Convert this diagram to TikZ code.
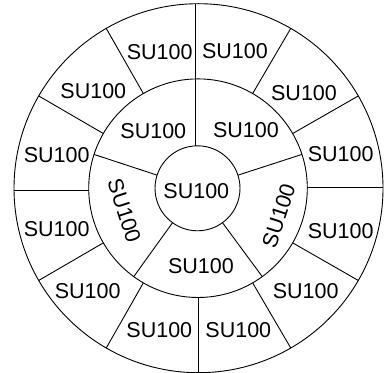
\documentclass[tikz,border=0pt]{standalone}
\usepackage{fontspec}
\setmainfont{Liberation Sans}
\usetikzlibrary{calc}
\begin{document}
\begin{tikzpicture}[x=1pt,y=1pt,line width=0.9pt,
  lab/.style={inner sep=0pt,font=\fontsize{21.5}{24}\selectfont}]
\useasboundingbox (0,0) rectangle (387,372);
\coordinate (co) at (198.5,183.8);
\coordinate (cm) at (198,183.8);
\coordinate (ci) at (197.5,183.7);
% circles
\draw (co) circle (184.5);
\draw (cm) circle (109.3);
\draw (ci) circle (42.5);
% outer ring dividers
\foreach \a in {30,60,120,150,210,240,300,330}
  \draw ($(cm)+(\a:109.3)$) -- ($(co)+(\a:184.5)$);
\draw (195,226.1) -- (195,368.3);
\draw (198.3,74.5) -- (198.3,-0.7);
\draw (14.0,182) -- (88.7,182);
\draw (307.3,184.7) -- (383,184.7);
% middle ring dividers
\foreach \a in {18,162,234,306}
  \draw ($(ci)+(\a:42.5)$) -- ($(cm)+(\a:109.3)$);
% outer labels
\node[lab] (o1) at (159.7,320.3) {SU100};
\node[lab] (o2) at (235,321.3) {SU100};
\node[lab] (o3) at (304,279.2) {SU100};
\node[lab] (o4) at (340.7,218) {SU100};
\node[lab] (o5) at (340.7,141.3) {SU100};
\node[lab] (o6) at (305.7,80.8) {SU100};
\node[lab] (o7) at (238.3,42.3) {SU100};
\node[lab] (o8) at (159.3,42.3) {SU100};
\node[lab] (o9) at (87.7,80.7) {SU100};
\node[lab] (o10) at (56.7,142.5) {SU100};
\node[lab] (o11) at (56.7,217.3) {SU100};
\node[lab] (o12) at (93.3,281.3) {SU100};
% middle labels
\node[lab] (ma) at (153.3,240.7) {SU100};
\node[lab] (mb) at (246,241.7) {SU100};
\node[lab] (mc) at (201,106.3) {SU100};
\node[lab,rotate=-72] (md) at (124.3,161.3) {SU100};
\node[lab,rotate=72] (me) at (278.7,156.3) {SU100};
% inner label
\node[lab] (ctr) at (196.3,181.3) {SU100};
\end{tikzpicture}
\end{document}
